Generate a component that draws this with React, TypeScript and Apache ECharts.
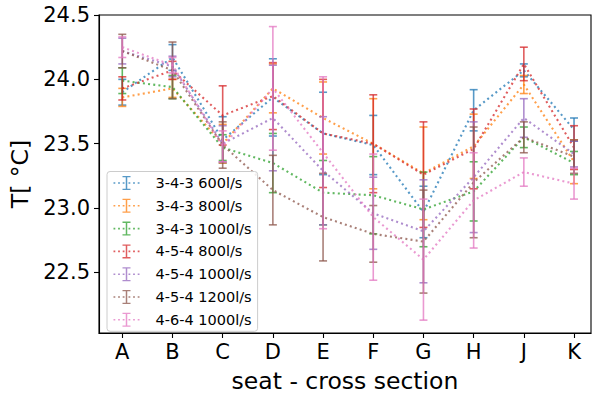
import React, { useEffect, useRef } from "react";
import * as echarts from "echarts";

const categories = ["A", "B", "C", "D", "E", "F", "G", "H", "J", "K"];
const yTicks = [22.5, 23.0, 23.5, 24.0, 24.5];

const seriesNames = [
  "3-4-3 600l/s",
  "3-4-3 800l/s",
  "3-4-3 1000l/s",
  "4-5-4 800l/s",
  "4-5-4 1000l/s",
  "4-5-4 1200l/s",
  "4-6-4 1000l/s",
];
const colors = ["#1f77b4", "#ff7f0e", "#2ca02c", "#d62728", "#9467bd", "#8c564b", "#e377c2"];

// means and standard deviations per seat (A..K)
const mean343_600 = [23.90, 24.17, 23.53, 23.86, 23.58, 23.49, 22.97, 23.76, 24.07, 23.61];
const err343_600 = [0.10, 0.10, 0.18, 0.30, 0.32, 0.23, 0.20, 0.16, 0.05, 0.09];
const mean343_800 = [23.86, 23.93, 23.50, 23.93, 23.70, 23.50, 23.27, 23.48, 23.96, 23.36];
const err343_800 = [0.07, 0.07, 0.15, 0.19, 0.28, 0.35, 0.36, 0.25, 0.07, 0.17];
const mean343_1000 = [23.99, 23.94, 23.47, 23.35, 23.12, 23.10, 22.99, 23.13, 23.55, 23.35];
const err343_1000 = [0.10, 0.09, 0.10, 0.23, 0.25, 0.30, 0.29, 0.23, 0.08, 0.09];
const mean454_800 = [23.93, 24.07, 23.72, 23.87, 23.58, 23.50, 23.26, 23.46, 24.12, 23.47];
const err454_800 = [0.09, 0.07, 0.23, 0.26, 0.42, 0.38, 0.41, 0.31, 0.13, 0.17];
const mean454_1000 = [24.22, 24.10, 23.50, 23.70, 23.29, 22.96, 22.82, 23.24, 23.70, 23.42];
const err454_1000 = [0.10, 0.08, 0.14, 0.41, 0.42, 0.28, 0.40, 0.43, 0.15, 0.10];
const mean454_1200 = [24.22, 24.07, 23.49, 23.14, 22.93, 22.80, 22.74, 23.20, 23.55, 23.40];
const err454_1200 = [0.13, 0.22, 0.18, 0.27, 0.34, 0.22, 0.40, 0.43, 0.12, 0.13];
const mean464_1000 = [24.25, 24.11, 23.48, 23.93, 23.43, 22.93, 22.60, 23.06, 23.28, 23.19];
const err464_1000 = [0.08, 0.06, 0.12, 0.48, 0.59, 0.49, 0.47, 0.37, 0.11, 0.12];

const means = [mean343_600, mean343_800, mean343_1000, mean454_800, mean454_1000, mean454_1200, mean464_1000];
const errs = [err343_600, err343_800, err343_1000, err454_800, err454_1000, err454_1200, err464_1000];

const FONT = "DejaVu Sans";
const ALPHA = 0.75;

// legend icon: dotted line with an error bar in the middle (26 x 14 box)
const legendIcon =
  "path://M0,6.2h1.8v1.6h-1.8z M4.6,6.2h1.8v1.6h-1.8z M9.2,6.2h1.8v1.6h-1.8z " +
  "M15,6.2h1.8v1.6h-1.8z M19.6,6.2h1.8v1.6h-1.8z M24.2,6.2h1.8v1.6h-1.8z " +
  "M12.25,0h1.5v14h-1.5z M9,0h8v1.3h-8z M9,12.7h8v1.3h-8z";

export default function App() {
  const ref = useRef<HTMLDivElement>(null);
  useEffect(() => {
    if (!ref.current) return;
    const chart = echarts.init(ref.current, undefined, { renderer: "svg" });
    const series: any[] = [];
    seriesNames.forEach((name, s) => {
      const color = colors[s];
      series.push({
        name,
        type: "line",
        data: means[s].map((v, i) => [i, v]),
        symbol: "none",
        color,
        itemStyle: { color, opacity: ALPHA },
        lineStyle: { color, width: 2.1, type: [2, 3.2], cap: "butt", opacity: ALPHA },
        z: 2 + s * 0.01,
      });
      series.push({
        name: name + " err",
        type: "custom",
        data: means[s].map((v, i) => [i, v - errs[s][i], v + errs[s][i]]),
        encode: { x: 0, y: [1, 2] },
        z: 2 + s * 0.01,
        renderItem: (params: any, api: any) => {
          const x = api.value(0);
          const lo = api.coord([x, api.value(1)]);
          const hi = api.coord([x, api.value(2)]);
          const hw = 4;
          const st = { stroke: color, lineWidth: 1.6, opacity: ALPHA };
          return {
            type: "group",
            children: [
              { type: "line", shape: { x1: lo[0], y1: lo[1], x2: hi[0], y2: hi[1] }, style: st },
              { type: "line", shape: { x1: lo[0] - hw, y1: lo[1], x2: lo[0] + hw, y2: lo[1] }, style: st },
              { type: "line", shape: { x1: hi[0] - hw, y1: hi[1], x2: hi[0] + hw, y2: hi[1] }, style: st },
            ],
          };
        },
      });
    });

    chart.setOption({
      animation: false,
      backgroundColor: "#ffffff",
      textStyle: { fontFamily: FONT },
      grid: {
        left: 99,
        right: 2,
        top: 15,
        bottom: 65,
        show: true,
        borderColor: "#000",
        borderWidth: 1.1,
        containLabel: false,
      },
      xAxis: {
        type: "value",
        min: -0.464,
        max: 9.338,
        name: "seat - cross section",
        nameLocation: "middle",
        nameGap: 36,
        nameTextStyle: { fontFamily: FONT, fontSize: 23.5, color: "#000" },
        axisLine: { show: true, onZero: false, lineStyle: { color: "#000", width: 1.1 } },
        axisTick: { show: true, length: 5, lineStyle: { color: "#000", width: 1.1 }, customValues: categories.map((_, i) => i) },
        axisLabel: {
          show: true,
          margin: 8,
          fontFamily: FONT,
          fontSize: 21,
          color: "#000",
          customValues: categories.map((_, i) => i),
          formatter: (v: number) => categories[Math.round(v)] ?? "",
        },
        splitLine: { show: false },
      },
      yAxis: {
        type: "value",
        min: 22.03,
        max: 24.5,
        name: "T[ °C]",
        nameLocation: "middle",
        nameRotate: 90,
        nameGap: 62,
        nameTextStyle: { fontFamily: FONT, fontSize: 23.5, color: "#000" },
        axisLine: { show: true, onZero: false, lineStyle: { color: "#000", width: 1.1 } },
        axisTick: { show: true, length: 5, lineStyle: { color: "#000", width: 1.1 }, customValues: yTicks },
        axisLabel: {
          show: true,
          margin: 9,
          fontFamily: FONT,
          fontSize: 21,
          color: "#000",
          customValues: yTicks,
          formatter: (v: number) => v.toFixed(1),
        },
        splitLine: { show: false },
      },
      legend: {
        data: seriesNames,
        orient: "vertical",
        left: 107,
        top: 171.5,
        icon: legendIcon,
        itemWidth: 26,
        itemHeight: 14,
        itemGap: 7.8,
        padding: [4, 6, 4, 6.5],
        backgroundColor: "rgba(255,255,255,0.85)",
        borderColor: "#cccccc",
        borderWidth: 1,
        borderRadius: 3,
        itemStyle: { borderWidth: 0, opacity: ALPHA },
        formatter: (name: string) => "{t|" + name + "}",
        textStyle: {
          fontFamily: FONT,
          fontSize: 14.5,
          color: "#000",
          lineHeight: 14,
          rich: {
            t: { fontFamily: FONT, fontSize: 14.5, lineHeight: 14, color: "#000", padding: [0, 0, 0, 11] },
          },
        },
        selectedMode: false,
      },
      series,
    });
    return () => chart.dispose();
  }, []);
  return (
    <div
      ref={ref}
      style={{ position: "fixed", left: 0, top: 0, width: 593, height: 398, background: "#fff" }}
    />
  );
}
